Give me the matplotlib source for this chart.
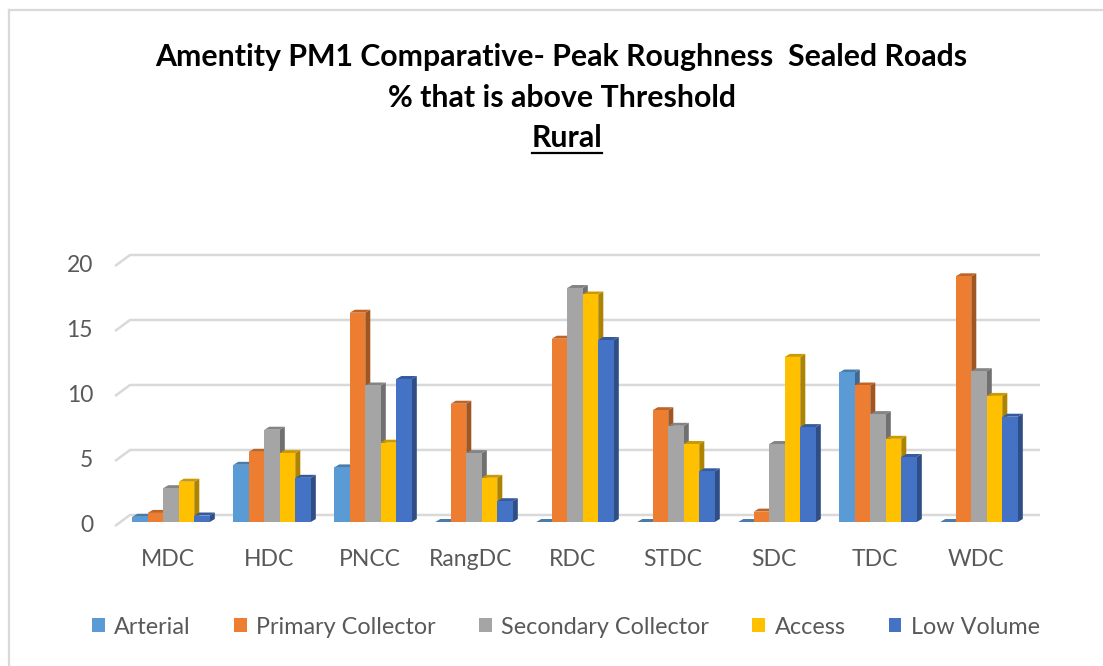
import numpy as np
import matplotlib
matplotlib.use("Agg")
import matplotlib.pyplot as plt
from matplotlib.patches import Polygon, Patch
from matplotlib.lines import Line2D

plt.rcParams['font.family'] = ['Lato', 'DejaVu Sans']

categories = ["MDC", "HDC", "PNCC", "RangDC", "RDC", "STDC", "SDC", "TDC", "WDC"]
arterial = [0.4, 4.4, 4.2, 0, 0, 0, 0, 11.5, 0]
primary = [0.7, 5.4, 16.1, 9.1, 14.1, 8.6, 0.8, 10.5, 18.9]
secondary = [2.6, 7.1, 10.5, 5.3, 18.0, 7.4, 6.0, 8.3, 11.6]
access = [3.1, 5.3, 6.1, 3.4, 17.5, 6.0, 12.7, 6.4, 9.7]
low_volume = [0.5, 3.4, 11.0, 1.6, 14.0, 3.9, 7.3, 5.0, 8.1]

series = ["Arterial", "Primary Collector", "Secondary Collector", "Access", "Low Volume"]
values = [arterial, primary, secondary, access, low_volume]
colors = ["#5B9BD5", "#ED7D31", "#A5A5A5", "#FFC000", "#4472C4"]
yticks = [0, 5, 10, 15, 20]

W, H = 1103, 666
fig = plt.figure(figsize=(W / 100, H / 100), dpi=100)

# axes box in pixels -> data: 101 px per category, 13 px per unit
xlim = (-1.1, 8.7)
ylim = (-1.4, 21.7)
ax = fig.add_axes([59.9 / W, 1 - 540.2 / H, 989.8 / W, 300.3 / H])
ax.set_xlim(*xlim)
ax.set_ylim(*ylim)
ax.axis("off")

grid_c = "#D9D9D9"
text_c = "#595959"

# back wall gridlines with the short slanted floor edge on the left
x_front, x_back, x_end = -0.554, -0.406, 8.604
for v in yticks:
    ax.plot([x_front, x_back, x_end], [v - 0.31, v + 0.54, v + 0.54],
            color=grid_c, lw=1.8, solid_capstyle="butt", zorder=1)
    ax.text(-0.772, v - 0.3, str(v), ha="right", va="center",
            fontsize=16.5, color=text_c)


def shade(c, f):
    r, g, b = matplotlib.colors.to_rgb(c)
    return (r * f, g * f, b * f)


bw = 0.1535
dx, dy = 0.05, 0.23
z = 2
for i in range(len(categories)):
    for j, (vals, c) in enumerate(zip(values, colors)):
        h = vals[i]
        x0 = i + (j - 2.5) * bw
        x1 = x0 + bw
        # side face, top face, front face
        ax.add_patch(Polygon([(x1, 0), (x1 + dx, dy), (x1 + dx, h + dy), (x1, h)],
                             closed=True, fc=shade(c, 0.68), ec="none", zorder=z))
        ax.add_patch(Polygon([(x0, h), (x1, h), (x1 + dx, h + dy), (x0 + dx, h + dy)],
                             closed=True, fc=shade(c, 0.8), ec="none", zorder=z))
        ax.bar(x0, h, width=bw, align="edge", color=c, zorder=z)
        z += 1

for i, name in enumerate(categories):
    ax.text(i - 0.03, -2.92, name, ha="center", va="center",
            fontsize=16.5, color=text_c, clip_on=False)

# titles
tsize = 21.8
fig.text(561 / W, 1 - 57 / H, "Amentity PM1 Comparative- Peak Roughness  Sealed Roads",
         ha="center", va="center", fontsize=tsize, fontweight="bold", color="black")
fig.text(562 / W, 1 - 98 / H, "% that is above Threshold",
         ha="center", va="center", fontsize=tsize, fontweight="bold", color="black")
rural = fig.text(567 / W, 1 - 138 / H, "Rural",
                 ha="center", va="center", fontsize=tsize, fontweight="bold", color="black")

# legend
handles = [Patch(facecolor=c, edgecolor="none") for c in colors]
fig.legend(handles, series, loc="center", bbox_to_anchor=(566 / W, 1 - 627 / H),
           ncol=5, frameon=False, fontsize=16.8, labelcolor=text_c,
           handlelength=0.55, handleheight=0.55, handletextpad=0.4,
           columnspacing=1.85, borderpad=0)

# chart area border (top and left edges)
fig.add_artist(Line2D([9 / W, 1], [1 - 10 / H, 1 - 10 / H], transform=fig.transFigure,
                      color=grid_c, lw=1.6))
fig.add_artist(Line2D([9 / W, 9 / W], [0, 1 - 10 / H], transform=fig.transFigure,
                      color=grid_c, lw=1.6))

# underline for "Rural"
fig.canvas.draw()
bb = rural.get_window_extent()
uy = (bb.y0 - 1) / H
fig.add_artist(Line2D([bb.x0 / W, bb.x1 / W], [uy, uy], transform=fig.transFigure,
                      color="black", lw=1.6))

fig.savefig("out.png", dpi=100)
